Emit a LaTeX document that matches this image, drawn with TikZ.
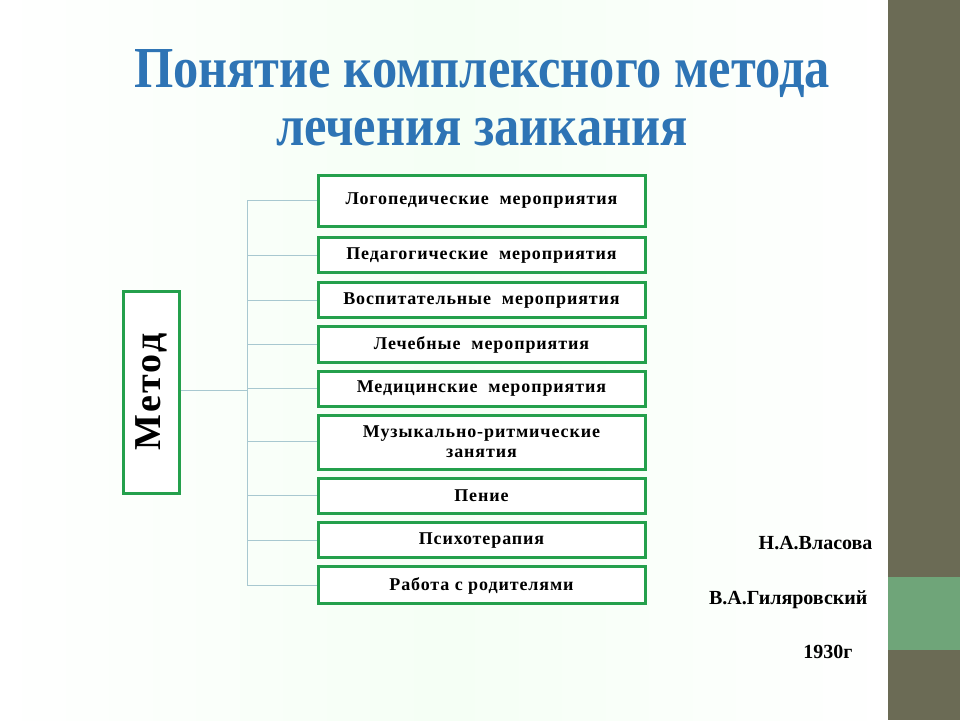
\documentclass[tikz,border=0pt]{standalone}
\usepackage{fontspec}
\setmainfont{Liberation Serif}
\definecolor{bx}{HTML}{24A04C}
\definecolor{ln}{HTML}{A8C8D0}
\definecolor{tt}{HTML}{2E74B5}
\definecolor{bar}{HTML}{6B6B55}
\definecolor{gb}{HTML}{6FA579}
\begin{document}
\begin{tikzpicture}[x=1pt,y=-1pt,
  itembox/.style={draw=bx,line width=3pt,fill=white,minimum width=327pt,inner sep=2pt},
  itemtext/.style={font=\bfseries\fontsize{18}{20}\selectfont\addfontfeature{LetterSpace=5},align=center},
  conn/.style={draw=ln,line width=1pt}]
\useasboundingbox (0,0) rectangle (960,720);
\shade[left color=white,right color=white,middle color=green!4] (0,0) rectangle (888,720);
\fill[bar] (888,0) rectangle (960,720);
\fill[gb] (888,577) rectangle (960,650);
\node[tt,font=\bfseries\fontsize{58}{58}\selectfont,align=center] (title) at (482,98) {\scalebox{0.87}[1]{Понятие комплексного метода}\\\scalebox{0.87}[1]{лечения заикания}};
\node[draw=bx,line width=3pt,fill=white,minimum width=202pt,minimum height=56pt,font=\bfseries\fontsize{38}{40}\selectfont\addfontfeature{LetterSpace=6},rotate=90] (m) at (151,392) {Метод};
\foreach \n/\t/\b/\c/\txt in {
 a/175/226/201/Логопедические\ \ мероприятия,
 b/237/272/256/Педагогические\ \ мероприятия,
 c/282/317/301/Воспитательные\ \ мероприятия,
 d/326/362/345/Лечебные\ \ мероприятия,
 e/371/406/389/Медицинские\ \ мероприятия,
 f/415/469/442/{Музыкально-ритмические\\занятия},
 g/478/513/496/Пение,
 h/522/557/541/Психотерапия,
 i/566/603/586/Работа\ с\ родителями}{
  \node[itembox,minimum height={\b-\t}] (\n) at (481.5,{(\t+\b)/2}) {};
  \node[itemtext] at (481.5,\c) {\txt};
}
\coordinate (j) at (247,390);
\coordinate (top) at (247,200);
\coordinate (bot) at (247,585);
\draw[conn] (m.south |- j) -- (j);
\draw[conn] (top) -- (bot);
\foreach \n/\c in {a/200,b/255,c/300,d/344,e/388,f/441,g/495,h/540,i/585}
  \draw[conn] (247,\c) -- (\n.west |- 0,\c);
\node[font=\bfseries\fontsize{20}{22}\selectfont,anchor=east] (v1) at (876,543) {Н.А.Власова};
\node[font=\bfseries\fontsize{20}{22}\selectfont,anchor=east] (v2) at (871,600) {В.А.Гиляровский};
\node[font=\bfseries\fontsize{20}{22}\selectfont,anchor=east] (v3) at (856,652) {1930г};
\end{tikzpicture}
\end{document}
